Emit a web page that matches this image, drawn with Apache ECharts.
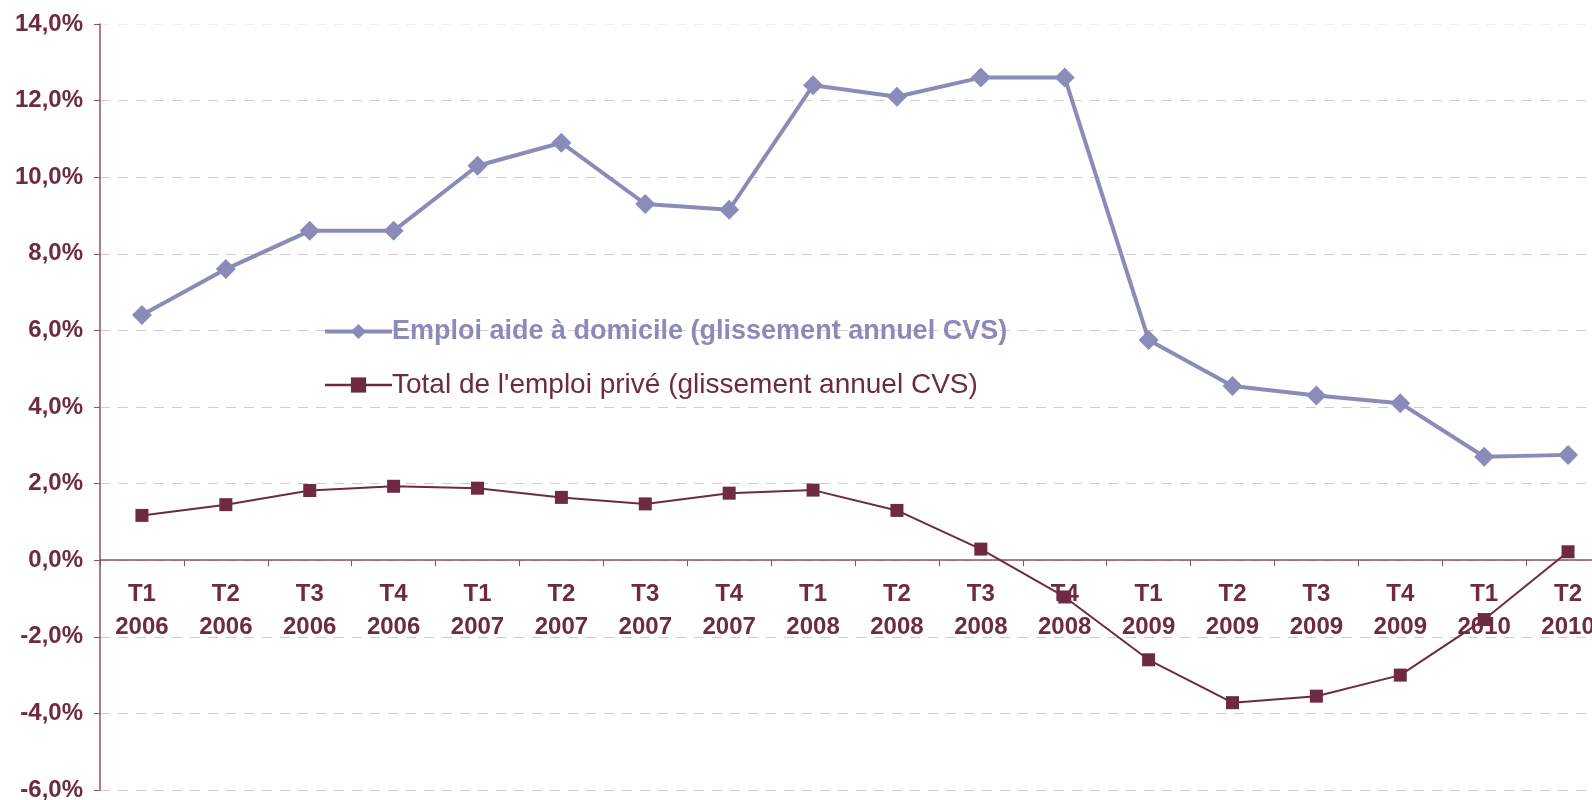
<!DOCTYPE html>
<html>
<head>
<meta charset="utf-8">
<script src="https://cdn.jsdelivr.net/npm/echarts@6/dist/echarts.min.js"></script>
<style>
	html, body { margin: 0; padding: 0; background: #fff; }
	#chart { width: 1592px; height: 800px; }
</style>
</head>
<body>
<div id="chart"></div>
<script>
	// categories (trimestre / année)
	const quarters = ['T1','T2','T3','T4','T1','T2','T3','T4','T1','T2','T3','T4','T1','T2','T3','T4','T1','T2'];
	const years = ['2006','2006','2006','2006','2007','2007','2007','2007','2008','2008','2008','2008','2009','2009','2009','2009','2010','2010'];

	// glissement annuel CVS, en %
	const aideDomicile = [6.4, 7.6, 8.6, 8.6, 10.3, 10.9, 9.3, 9.15, 12.4, 12.1, 12.6, 12.6, 5.75, 4.55, 4.3, 4.1, 2.7, 2.75];
	const emploiPrive = [1.17, 1.45, 1.82, 1.93, 1.88, 1.64, 1.47, 1.75, 1.83, 1.3, 0.29, -0.96, -2.6, -3.72, -3.55, -3.0, -1.55, 0.22];

	const seriesNames = [
		'Emploi aide à domicile (glissement annuel CVS)',
		"Total de l'emploi privé (glissement annuel CVS)"
	];

	const yMin = -6, yMax = 14, yStep = 2;

	const categories = quarters.map((q, i) => q + '\n' + years[i]);

	const dark = '#6e2a43';
	const lavender = '#8b8bb9';
	const font = 'Liberation Sans, Arial, sans-serif';

	let myChart = echarts.init(document.getElementById('chart'));
	myChart.setOption({
		animation: false,
		grid: {
			left: 100,
			right: -18,
			top: 24,
			bottom: 10,
			outerBoundsMode: 'none'
		},
		legend: {
			orient: 'vertical',
			left: 318,
			top: 313,
			itemWidth: 67,
			itemHeight: 19,
			itemGap: 26,
			data: [
				{
					name: seriesNames[0],
					lineStyle: { width: 4 },
					textStyle: { color: lavender, fontWeight: 'bold', fontSize: 27, fontFamily: font }
				},
				{
					name: seriesNames[1],
					lineStyle: { width: 2.5 },
					textStyle: { color: dark, fontWeight: 'normal', fontSize: 28, fontFamily: font }
				}
			],
			textStyle: { padding: [0, 0, 0, -5] }
		},
		xAxis: {
			type: 'category',
			data: categories,
			boundaryGap: true,
			axisLine: {
				onZero: true,
				lineStyle: { color: '#8c5068', width: 1.5 }
			},
			axisTick: {
				show: true,
				length: 6,
				lineStyle: { color: '#8c5068' }
			},
			axisLabel: {
				interval: 0,
				margin: -212,
				color: dark,
				fontSize: 24,
				fontWeight: 'bold',
				fontFamily: font,
				lineHeight: 33
			},
			splitLine: { show: false }
		},
		yAxis: {
			type: 'value',
			min: yMin,
			max: yMax,
			interval: yStep,
			axisLine: {
				show: true,
				lineStyle: { color: '#8c5068', width: 1.5 }
			},
			axisTick: {
				show: true,
				length: 6,
				lineStyle: { color: '#8c5068' }
			},
			axisLabel: {
				margin: 17,
				color: dark,
				fontSize: 24,
				fontWeight: 'bold',
				fontFamily: font,
				formatter: v => v.toFixed(1).replace('.', ',') + '%'
			},
			splitLine: {
				show: true,
				lineStyle: {
					color: ['#d8c8ce','#d8c8ce','#d8c8ce','#d8c8ce','#d8c8ce','#d8c8ce','#d8c8ce','#d8c8ce','#d8c8ce','#d8c8ce','#f4eef0'],
					type: [10, 8],
					width: 1
				}
			}
		},
		series: [
			{
				name: seriesNames[0],
				type: 'line',
				data: aideDomicile,
				symbol: 'diamond',
				symbolSize: 20,
				lineStyle: { color: lavender, width: 4 },
				itemStyle: { color: lavender },
				z: 3
			},
			{
				name: seriesNames[1],
				type: 'line',
				data: emploiPrive,
				symbol: 'rect',
				symbolSize: 13,
				lineStyle: { color: dark, width: 2 },
				itemStyle: { color: dark },
				z: 4
			}
		]
	});
</script>
</body>
</html>
